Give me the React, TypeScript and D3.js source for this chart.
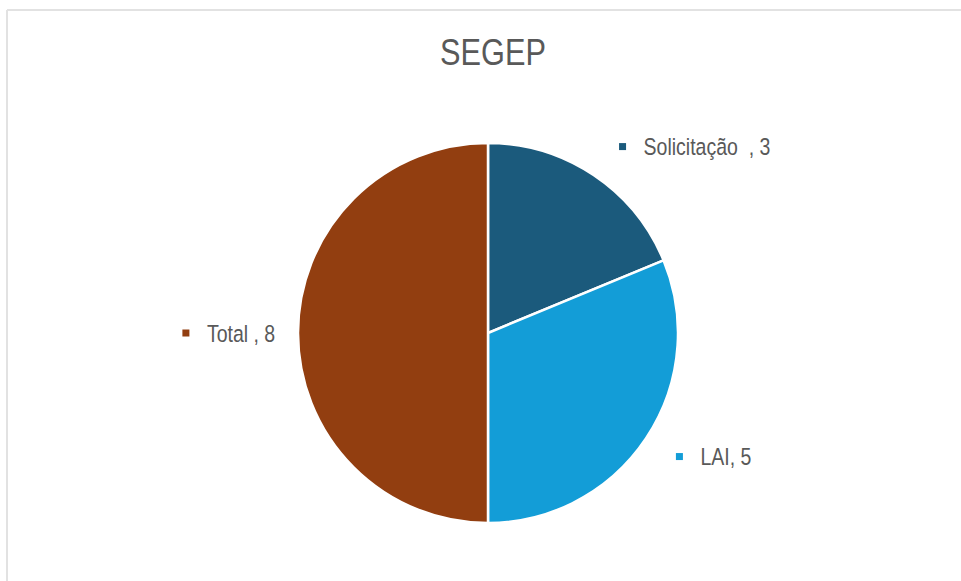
import React from "react";
import * as d3 from "d3";

const categories = ["Solicitação  ", "LAI", "Total "];
const values = [3, 5, 8];
const colors = ["#1b5a7c", "#139dd7", "#923e10"];
const title = "SEGEP";

const W = 961;
const H = 581;
const CX = 488;
const CY = 333;
const R = 190;
const labelRadiusFactor = [1.18, 1.18, 1.59];
const labelShift = [
  [10, 0],
  [5, -1],
  [0, 0],
];
const FONT = "'Liberation Sans', Arial, sans-serif";
const SX = 0.83;

export default function App() {
  const pie = d3.pie<number>().sort(null).value((d) => d)(values);
  const arc = d3.arc<d3.PieArcDatum<number>>().innerRadius(0).outerRadius(R);

  return (
    <svg
      width={W}
      height={H}
      style={{ position: "absolute", left: 0, top: 0, background: "#fff" }}
    >
      <rect x={0} y={0} width={W} height={H} fill="#fff" />
      <line x1={7} y1={10} x2={W} y2={10} stroke="#e2e2e2" strokeWidth={2} />
      <line x1={7} y1={10} x2={7} y2={H} stroke="#e2e2e2" strokeWidth={2} />
      <g transform={`translate(493,65) scale(${SX},1)`}>
        <text
          x={0}
          y={0}
          textAnchor="middle"
          fontFamily={FONT}
          fontSize={37}
          fill="#595959"
        >
          {title}
        </text>
      </g>
      <g transform={`translate(${CX},${CY})`}>
        {pie.map((p, i) => (
          <path key={i} d={arc(p) || ""} fill={colors[i]} stroke="#fff" strokeWidth={2.5} />
        ))}
      </g>
      {pie.map((p, i) => {
        const mid = (p.startAngle + p.endAngle) / 2;
        const rl = R * labelRadiusFactor[i];
        const mx = CX + rl * Math.sin(mid) + labelShift[i][0];
        const my = CY - rl * Math.cos(mid) + labelShift[i][1];
        const txt = `${categories[i]}, ${values[i]}`;
        return (
          <g key={i}>
            <rect x={mx - 3.5} y={my - 3.5} width={7} height={7} fill={colors[i]} />
            <g transform={`translate(${mx + 21},${my + 8.5}) scale(${SX},1)`}>
              <text
                x={0}
                y={0}
                fontFamily={FONT}
                fontSize={23.5}
                fill="#595959"
                style={{ whiteSpace: "pre" }}
                xmlSpace="preserve"
              >
                {txt}
              </text>
            </g>
          </g>
        );
      })}
    </svg>
  );
}
